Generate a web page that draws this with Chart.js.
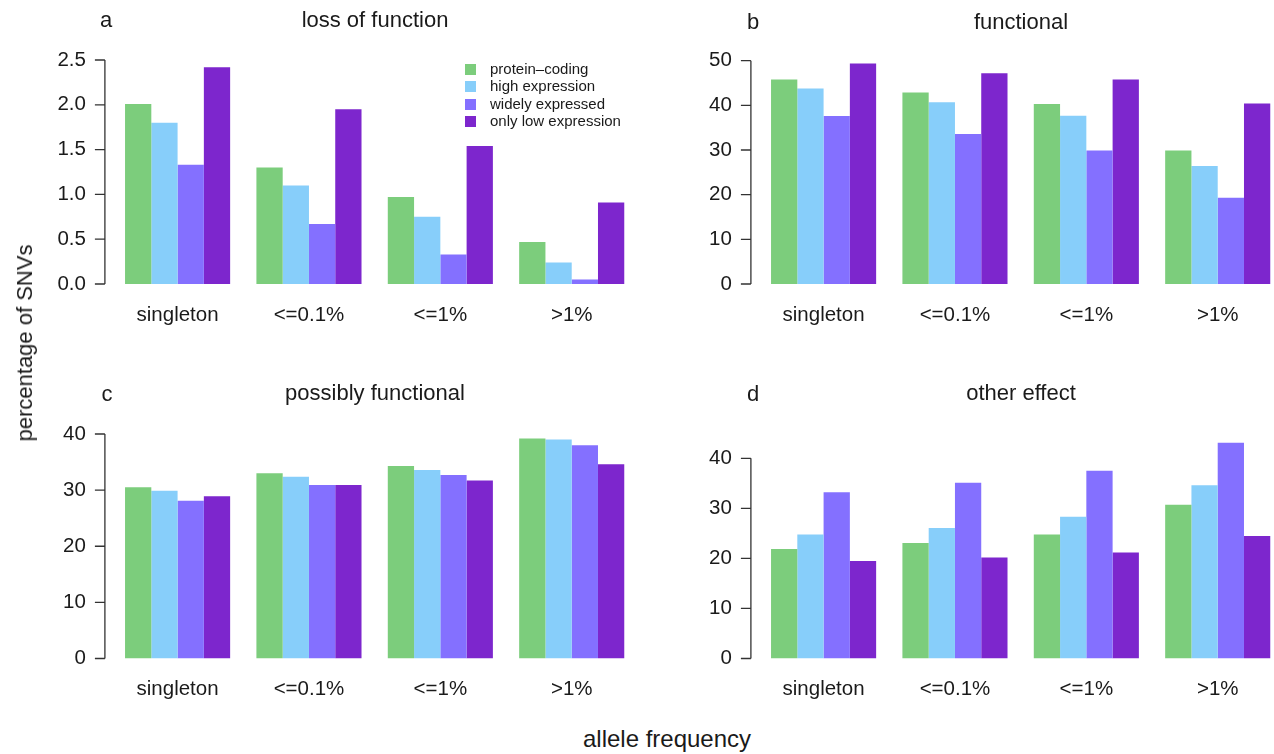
<!DOCTYPE html>
<html>
<head>
<meta charset="utf-8">
<script src="https://cdn.jsdelivr.net/npm/chart.js@4.4.1/dist/chart.umd.min.js"></script>
<style>
body{margin:0;background:#fff;}
#page{position:relative;width:1274px;height:754px;overflow:hidden;font-family:"Liberation Sans",Arial,sans-serif;color:#1a1a1a;}
.box{position:absolute;}
.txt{position:absolute;white-space:nowrap;transform:translate(-50%,-50%);}
.title{font-size:22px;}
.letter{font-size:22px;}
#legend{position:absolute;left:465px;top:60px;font-size:15px;line-height:17.3px;}
#legend div{white-space:nowrap;}
#legend span{display:inline-block;width:11px;height:11px;margin-right:14px;vertical-align:-1px;}
</style>
</head>
<body>
<div id="page">
<div class="box" style="left:0;top:0"><canvas id="ca" width="650" height="350"></canvas></div>
<div class="box" style="left:650px;top:0"><canvas id="cb" width="650" height="350"></canvas></div>
<div class="box" style="left:0;top:370px"><canvas id="cc" width="650" height="350"></canvas></div>
<div class="box" style="left:650px;top:370px"><canvas id="cd" width="650" height="350"></canvas></div>

<div class="txt letter" style="left:106px;top:20px">a</div>
<div class="txt title" style="left:375px;top:20px">loss of function</div>
<div class="txt letter" style="left:753px;top:22px">b</div>
<div class="txt title" style="left:1021px;top:22px">functional</div>
<div class="txt letter" style="left:107px;top:394px">c</div>
<div class="txt title" style="left:375px;top:393px">possibly functional</div>
<div class="txt letter" style="left:753px;top:394px">d</div>
<div class="txt title" style="left:1021px;top:393px">other effect</div>

<div class="txt" style="left:25px;top:343px;font-size:22px;transform:translate(-50%,-50%) rotate(-90deg)">percentage of SNVs</div>
<div class="txt" style="left:667px;top:739px;font-size:24px">allele frequency</div>

<div id="legend"></div>
</div>

<script>
const categories = ["singleton", "<=0.1%", "<=1%", ">1%"];
const seriesNames = ["protein\u2013coding", "high expression", "widely expressed", "only low expression"];
const seriesColors = ["#7ccd7c", "#87cefa", "#8470ff", "#7d26cd"];

// one row per series, one value per category
const lossOfFunction = [
  [2.01, 1.30, 0.97, 0.47],
  [1.80, 1.10, 0.75, 0.24],
  [1.33, 0.67, 0.33, 0.05],
  [2.42, 1.95, 1.54, 0.91]
];
const functional = [
  [45.8, 42.9, 40.3, 29.9],
  [43.8, 40.7, 37.7, 26.4],
  [37.6, 33.6, 29.9, 19.3],
  [49.4, 47.2, 45.8, 40.4]
];
const possiblyFunctional = [
  [30.5, 33.0, 34.3, 39.2],
  [29.9, 32.4, 33.6, 39.0],
  [28.1, 30.9, 32.7, 38.0],
  [28.9, 30.9, 31.7, 34.6]
];
const otherEffect = [
  [21.9, 23.1, 24.8, 30.7],
  [24.8, 26.1, 28.3, 34.6],
  [33.2, 35.1, 37.5, 43.1],
  [19.5, 20.2, 21.2, 24.5]
];

const ticksA = [0, 0.5, 1, 1.5, 2, 2.5];
const ticksB = [0, 10, 20, 30, 40, 50];
const ticksC = [0, 10, 20, 30, 40];
const ticksD = [0, 10, 20, 30, 40];

const legend = document.getElementById("legend");
seriesNames.forEach((name, i) => {
  const row = document.createElement("div");
  row.innerHTML = `<span style="background:${seriesColors[i]}"></span>${name}`;
  legend.appendChild(row);
});

// R-style axis: line only from first to last tick, offset left of the bars
const rAxis = {
  id: "rAxis",
  afterDraw(chart) {
    const { ctx, chartArea, scales } = chart;
    const y = scales.y;
    const x0 = chartArea.left - 7;
    const vals = y.ticks.map(t => t.value);
    const top = y.getPixelForValue(vals[vals.length - 1]);
    const bot = y.getPixelForValue(vals[0]);
    ctx.save();
    ctx.strokeStyle = "#333";
    ctx.lineWidth = 1.3;
    ctx.beginPath();
    ctx.moveTo(x0, top);
    ctx.lineTo(x0, bot);
    vals.forEach(v => {
      const py = y.getPixelForValue(v);
      ctx.moveTo(x0, py);
      ctx.lineTo(x0 - 10, py);
    });
    ctx.stroke();
    ctx.restore();
  }
};

const YW = 100, XH = 60;
const font = { family: "'Liberation Sans', Arial, sans-serif", size: 20.5 };

function panel(id, values, ticks, max, decimals, area) {
  new Chart(document.getElementById(id), {
    type: "bar",
    data: {
      labels: categories,
      datasets: values.map((row, i) => ({
        label: seriesNames[i],
        data: row,
        backgroundColor: seriesColors[i],
        borderWidth: 0,
        barPercentage: 1,
        categoryPercentage: 0.8
      }))
    },
    options: {
      responsive: false,
      animation: false,
      layout: {
        padding: {
          left: area.left - YW,
          right: area.w - area.right,
          top: area.top,
          bottom: area.h - area.bottom - XH
        }
      },
      plugins: { legend: { display: false }, tooltip: { enabled: false } },
      scales: {
        x: {
          grid: { display: false, drawTicks: false },
          border: { display: false },
          ticks: { font: font, color: "#1a1a1a", padding: 19, maxRotation: 0, autoSkip: false },
          afterFit(s) { s.height = XH; }
        },
        y: {
          min: 0,
          max: max,
          grid: { display: false, drawTicks: false },
          border: { display: false },
          ticks: { font: font, color: "#1a1a1a", padding: 26, callback: v => v.toFixed(decimals) },
          afterFit(s) { s.width = YW; },
          afterBuildTicks(s) { s.ticks = ticks.map(v => ({ value: v })); }
        }
      }
    },
    plugins: [rAxis]
  });
}

panel("ca", lossOfFunction, ticksA, 2.5, 1, { w: 650, h: 350, left: 111.9, right: 637.4, top: 60, bottom: 284 });
panel("cb", functional, ticksB, 50, 0, { w: 650, h: 350, left: 107.9, right: 633.4, top: 60.7, bottom: 284 });
panel("cc", possiblyFunctional, ticksC, 40, 0, { w: 650, h: 350, left: 111.9, right: 637.4, top: 64, bottom: 288.5 });
panel("cd", otherEffect, ticksD, 45, 0, { w: 650, h: 350, left: 107.9, right: 633.4, top: 63.3, bottom: 288.5 });
</script>
</body>
</html>
